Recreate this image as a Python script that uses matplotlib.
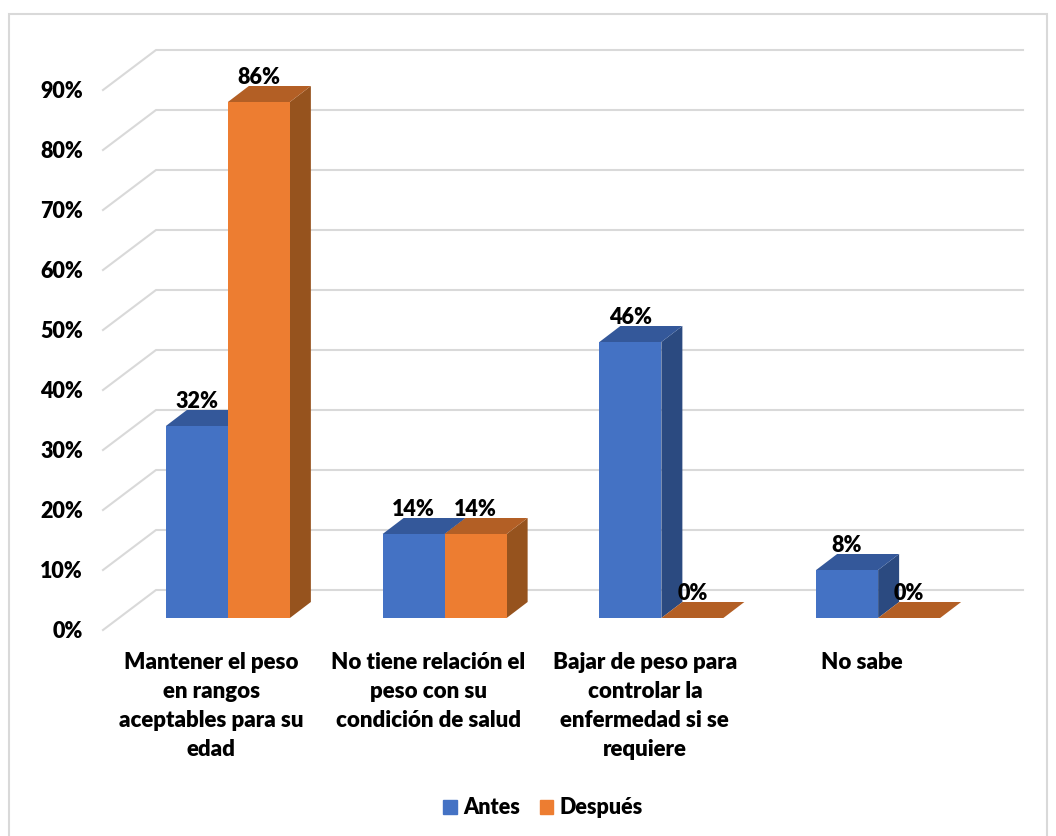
import matplotlib.pyplot as plt
from matplotlib.patches import Polygon, Patch, Rectangle
import numpy as np

plt.rcParams['font.family'] = ['Lato', 'DejaVu Sans']
plt.rcParams['font.weight'] = 'heavy'
plt.rcParams['font.size'] = 15.5

categorias = ['Mantener el peso\nen rangos\naceptables para su\nedad',
              'No tiene relación el\npeso con su\ncondición de salud',
              'Bajar de peso para\ncontrolar la\nenfermedad si se\nrequiere',
              'No sabe']
antes = [32, 14, 46, 8]
despues = [86, 14, 0, 0]
series = ['Antes', 'Después']
ticks = [0, 10, 20, 30, 40, 50, 60, 70, 80, 90]

W, H = 1056, 836
fig = plt.figure(figsize=(W / 100, H / 100), dpi=100)
fig.add_artist(Rectangle((9 / W, -0.01), 1038 / W, 1 - 14 / H + 0.01, transform=fig.transFigure,
                         fc='white', ec='#d9d9d9', lw=1.5, zorder=-1))

# los ejes son el plano frontal del piso, de 0% a 90%
ax = fig.add_axes([103 / W, 1 - 630 / H, 867 / W, 540 / H])
ax.patch.set_alpha(0)
ax.set_xlim(0, 4)
ax.set_ylim(0, 90)
for s in ax.spines.values():
    s.set_visible(False)

px_x = 4 / 867   # un pixel en unidades de x
px_y = 90 / 540  # un pixel en unidades de y

# rejilla con su parte inclinada
pared_x, pared_y = 53 * px_x, 40 * px_y
for t in ticks:
    ax.plot([0, pared_x, 4 + pared_x], [t, t + pared_y, t + pared_y],
            color='#d9d9d9', lw=1.5, clip_on=False, zorder=1)

ancho = 62 * px_x
prof_x, prof_y = 21 * px_x, 16 * px_y
base_x, base_y = 16.5 * px_x, 12 * px_y


def barra(x0, v, c_frente, c_arriba, c_lado):
    y0 = base_y
    y1 = base_y + v
    x1 = x0 + ancho
    ax.add_patch(Polygon([(x1, y0), (x1 + prof_x, y0 + prof_y), (x1 + prof_x, y1 + prof_y), (x1, y1)],
                         fc=c_lado, ec='none', clip_on=False, zorder=3))
    ax.add_patch(Polygon([(x0, y1), (x1, y1), (x1 + prof_x, y1 + prof_y), (x0 + prof_x, y1 + prof_y)],
                         fc=c_arriba, ec='none', clip_on=False, zorder=3))
    ax.add_patch(Rectangle((x0, y0), ancho, v, fc=c_frente, ec='none', clip_on=False, zorder=3))
    ax.text(x0 + ancho / 2, y1 + prof_y - 0.35, f'{v}%', ha='center', va='bottom', zorder=5, color='black')


x = np.arange(4) + 0.5
for i in range(4):
    izq = x[i] + base_x - ancho
    barra(izq, antes[i], '#4472C4', '#34589A', '#2B4A80')
    barra(izq + ancho, despues[i], '#ED7D31', '#B35F25', '#96531E')

ax.set_yticks(ticks)
ax.set_yticklabels([f'{t}%' for t in ticks])
ax.set_xticks(x)
ax.set_xticklabels(categorias, linespacing=1.47, fontsize=16)
ax.tick_params(axis='y', length=0, pad=14.5)
ax.tick_params(axis='x', length=0, pad=16)

handles = [Patch(color='#4472C4', label=series[0]), Patch(color='#ED7D31', label=series[1])]
fig.legend(handles=handles, ncol=2, loc='center', bbox_to_anchor=(543 / W, 1 - 808 / H), frameon=False,
           handlelength=0.65, handleheight=0.65, handletextpad=0.3, columnspacing=0.9)

plt.savefig('out.png', dpi=100)
